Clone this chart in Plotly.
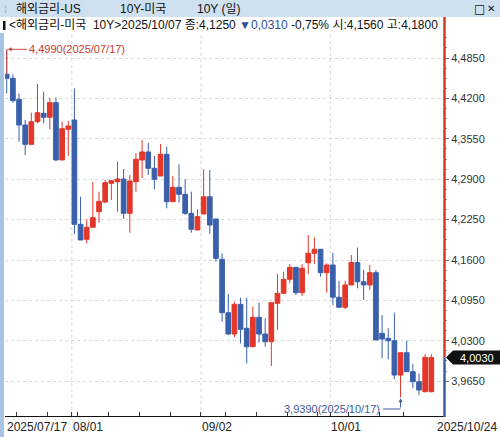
import pandas as pd
import plotly.graph_objects as go

# ---------------- data ----------------
holidays = ["2025-09-01", "2025-10-13"]
dates = [d for d in pd.bdate_range("2025-07-17", "2025-10-24") if d.strftime("%Y-%m-%d") not in holidays]
date_labels = [d.strftime("%Y/%m/%d") for d in dates]

opn = [4.4588, 4.4523, 4.4185, 4.3772, 4.3461, 4.3825, 4.3960, 4.3896, 4.4131, 4.3209,
       4.3703, 4.3852, 4.2174, 4.1933, 4.2126, 4.2377, 4.2533, 4.2834, 4.2860, 4.2903,
       4.2351, 4.2860, 4.3209, 4.3338, 4.3075, 4.2951, 4.3301, 4.2538, 4.2770, 4.2657,
       4.2351, 4.2083, 4.2340, 4.2618, 4.2260, 4.1611, 4.0752, 4.0409, 4.0887, 4.0501,
       4.0205, 4.0678, 4.0409, 4.0285, 4.0903, 4.1064, 4.1289, 4.1482, 4.1074, 4.1556,
       4.1708, 4.1772, 4.1396, 4.1519, 4.1000, 4.0839, 4.1198, 4.1560, 4.1250, 4.1198,
       4.1396, 4.0420, 4.0340, 4.0301, 3.9749, 4.0108, 3.9803, 3.9642, 3.9481, 3.9481]
high = [4.4990, 4.4588, 4.4282, 4.3852, 4.3970, 4.4432, 4.4308, 4.4211, 4.4211, 4.3825,
        4.3836, 4.4362, 4.2618, 4.2255, 4.2860, 4.2699, 4.2887, 4.2887, 4.3181, 4.3064,
        4.2967, 4.3317, 4.3531, 4.3487, 4.3273, 4.3466, 4.3423, 4.2951, 4.3140, 4.2898,
        4.2699, 4.2416, 4.3059, 4.3048, 4.2260, 4.1708, 4.1053, 4.0929, 4.0993, 4.0993,
        4.0848, 4.0913, 4.0662, 4.0913, 4.1375, 4.1412, 4.1535, 4.1482, 4.1535, 4.2002,
        4.1965, 4.1772, 4.1547, 4.1717, 4.1267, 4.1267, 4.1680, 4.1800, 4.1439, 4.1519,
        4.1439, 4.0715, 4.0501, 4.0752, 4.0108, 4.0301, 3.9926, 3.9777, 4.0087, 4.0087]
low = [4.4282, 4.4131, 4.3503, 4.3289, 4.3461, 4.3799, 4.3799, 4.3703, 4.3195, 4.3209,
       4.3273, 4.2018, 4.1922, 4.1868, 4.2126, 4.2200, 4.2512, 4.2565, 4.2377, 4.2260,
       4.2039, 4.2699, 4.2914, 4.2967, 4.2737, 4.2951, 4.2432, 4.2538, 4.2522, 4.2324,
       4.2039, 4.2083, 4.2340, 4.2018, 4.1572, 4.0607, 4.0393, 4.0356, 4.0259, 3.9938,
       4.0205, 4.0269, 4.0205, 3.9894, 4.0474, 4.1064, 4.1225, 4.1037, 4.1021, 4.1375,
       4.1535, 4.1331, 4.1074, 4.0876, 4.0839, 4.0807, 4.1198, 4.1144, 4.0956, 4.1117,
       4.0313, 4.0018, 4.0002, 3.9680, 3.9390, 3.9803, 3.9535, 3.9428, 3.9471, 3.9471]
close = [4.4523, 4.4163, 4.3772, 4.3461, 4.3825, 4.3970, 4.3896, 4.4131, 4.3209, 4.3712,
         4.3756, 4.2174, 4.1922, 4.2126, 4.2280, 4.2544, 4.2844, 4.2876, 4.2903, 4.2351,
         4.2871, 4.3220, 4.3338, 4.3075, 4.2898, 4.3301, 4.2538, 4.2770, 4.2657, 4.2351,
         4.2094, 4.2297, 4.2618, 4.2163, 4.1627, 4.0752, 4.0409, 4.0887, 4.0485, 4.0205,
         4.0678, 4.0409, 4.0285, 4.0913, 4.1064, 4.1289, 4.1482, 4.1074, 4.1466, 4.1708,
         4.1772, 4.1396, 4.1519, 4.1000, 4.0839, 4.1198, 4.1560, 4.1250, 4.1198, 4.1396,
         4.0313, 4.0329, 4.0301, 3.9749, 4.0108, 3.9803, 3.9642, 3.9508, 4.0034, 4.0030]

y_ticks = [4.4850, 4.4200, 4.3550, 4.2900, 4.2250, 4.1600, 4.0950, 4.0300, 3.9650]
y_ticktext = ["4,4850", "4,4200", "4,3550", "4,2900", "4,2250", "4,1600", "4,0950", "4,0300", "3,9650"]
x_label_text = ["2025/07/17", "08/01", "09/02", "10/01", "2025/10/24"]

NB = "\u00a0"
header_title_parts = ["해외금리-US", "10Y-미국", "10Y (일)"]
header_info_a = "<해외금리-미국" + NB * 2 + "10Y>2025/10/07 종:4,1250 "
header_info_b = "▼0,0310"
header_info_c = " -0,75% 시:4,1560 고:4,1800"
last_price = 4.0030
hi_idx, lo_idx = 0, 64

# ---------------- layout helpers ----------------
W, H = 500, 437
ML, MR, MT, MB = 5, 56, 35, 21
PW, PH = W - ML - MR, H - MT - MB
Y0, Y1 = 3.909, 4.522
X0, X1 = -0.28, 71.06


def PX(px):
    return (px - ML) / PW


def PY(py):
    return (H - MB - py) / PH


def val2py(v):
    return MT + (Y1 - v) / (Y1 - Y0) * PH


idx = list(range(len(dates)))
RED = "#e3372a"
BLUE = "#3a60ab"
FONT = "Liberation Sans, Noto Sans CJK KR, sans-serif"

fig = go.Figure()
fig.add_trace(go.Candlestick(
    x=idx, open=opn, high=high, low=low, close=close,
    increasing=dict(fillcolor=RED, line=dict(color=RED, width=1)),
    decreasing=dict(fillcolor=BLUE, line=dict(color=BLUE, width=1)),
    whiskerwidth=0, showlegend=False, hoverinfo="skip",
))

# week-start ticks and month gridlines
week_starts = []
prev = None
for i, d in enumerate(dates):
    wk = d.isocalendar()[1]
    if prev is not None and wk != prev:
        week_starts.append(i)
    prev = wk
month_starts = [i for i in range(1, len(dates)) if dates[i].month != dates[i - 1].month]
label_idx = [0] + month_starts + [len(dates) - 1]
tick_pos = sorted(set(week_starts + month_starts))
tick_pos = [p - 0.45 for p in tick_pos]

shapes = []
for m in month_starts:
    shapes.append(dict(type="line", xref="x", yref="paper", x0=m - 0.42, x1=m - 0.42, y0=0, y1=1,
                       line=dict(color="#d6d6d6", width=1, dash="3px,3px"), layer="below"))

# title bar, left strip
shapes.append(dict(type="rect", xref="paper", yref="paper", x0=PX(0), x1=PX(500), y0=PY(17), y1=PY(0),
                   fillcolor="#cfe1f1", line=dict(width=0), layer="below"))
shapes.append(dict(type="rect", xref="paper", yref="paper", x0=PX(0), x1=PX(4), y0=PY(437), y1=PY(33),
                   fillcolor="#a9c3e2", line=dict(width=0), layer="below"))
# black marker in header row
shapes.append(dict(type="rect", xref="paper", yref="paper", x0=PX(3), x1=PX(5.5), y0=PY(30), y1=PY(21),
                   fillcolor="#111", line=dict(width=0)))

# coloured price axis line
py_last = val2py(last_price)
shapes.append(dict(type="line", xref="paper", yref="paper", x0=PX(444.5), x1=PX(444.5), y0=PY(17), y1=PY(py_last),
                   line=dict(color="#d23a2b", width=2.5)))
shapes.append(dict(type="line", xref="paper", yref="paper", x0=PX(444.5), x1=PX(444.5), y0=PY(py_last), y1=PY(417),
                   line=dict(color="#3a5ea6", width=2.5)))
# price tag
tag = "M {x0},{yc} L {x1},{yt} L {x2},{yt} L {x2},{yb} L {x1},{yb} Z".format(
    x0=PX(446), x1=PX(453), x2=PX(500), yc=PY(py_last), yt=PY(py_last - 7), yb=PY(py_last + 7))
shapes.append(dict(type="path", xref="paper", yref="paper", path=tag, fillcolor="#111", line=dict(width=0)))

# high marker vertical (overlay on wick)
shapes.append(dict(type="line", xref="x", yref="y", x0=hi_idx, x1=hi_idx, y0=high[hi_idx], y1=opn[hi_idx],
                   line=dict(color="#d0463a", width=1)))
# low marker elbow
py_low_lbl = 409
shapes.append(dict(type="line", xref="paper", yref="paper", x0=PX(383), x1=PX(5 + (lo_idx - X0) / (X1 - X0) * PW),
                   y0=PY(py_low_lbl), y1=PY(py_low_lbl), line=dict(color="#3d5a99", width=1)))

annotations = []
# header texts
annotations.append(dict(xref="paper", yref="paper", x=PX(2), y=PY(8.5), text="⁞", showarrow=False,
                        xanchor="left", yanchor="middle", font=dict(family=FONT, size=11, color="#8aa0b8")))
for xp, t in zip([14, 118, 195], header_title_parts):
    annotations.append(dict(xref="paper", yref="paper", x=PX(xp), y=PY(8.5), text=t, showarrow=False,
                            xanchor="left", yanchor="middle", font=dict(family=FONT, size=12, color="#111")))
annotations.append(dict(xref="paper", yref="paper", x=PX(480), y=PY(8.5), text="□", showarrow=False,
                        xanchor="center", yanchor="middle", font=dict(family="DejaVu Sans", size=12, color="#111")))
annotations.append(dict(xref="paper", yref="paper", x=PX(491), y=PY(8.5), text="✕", showarrow=False,
                        xanchor="center", yanchor="middle", font=dict(family="DejaVu Sans", size=10, color="#111")))
annotations.append(dict(xref="paper", yref="paper", x=PX(7), y=PY(25), showarrow=False,
                        text=header_info_a + "<span style='color:#2b4fa0'>" + header_info_b + "</span>" + header_info_c,
                        xanchor="left", yanchor="middle", font=dict(family=FONT, size=12, color="#111")))
# x labels
for k, (i, t) in enumerate(zip(label_idx, x_label_text)):
    if k == 0:
        annotations.append(dict(xref="paper", yref="paper", x=PX(5), y=PY(427), text=t, showarrow=False,
                                xanchor="left", yanchor="middle", font=dict(family=FONT, size=12, color="#222")))
    elif k == len(label_idx) - 1:
        annotations.append(dict(xref="paper", yref="paper", x=PX(499), y=PY(427), text=t, showarrow=False,
                                xanchor="right", yanchor="middle", font=dict(family=FONT, size=12, color="#222")))
    else:
        annotations.append(dict(xref="x", yref="paper", x=i - 0.45, y=PY(427), text=t, showarrow=False,
                                xanchor="left", yanchor="middle", xshift=-1,
                                font=dict(family=FONT, size=12, color="#222")))
# price tag text
annotations.append(dict(xref="paper", yref="paper", x=PX(477), y=PY(py_last), text="4,0030", showarrow=False,
                        xanchor="center", yanchor="middle", font=dict(family=FONT, size=11, color="white")))
# high / low markers
annotations.append(dict(xref="x", yref="y", x=hi_idx, y=high[hi_idx],
                        text="4,4990(2025/07/17)", showarrow=True, ax=20, ay=0, xanchor="left",
                        arrowhead=2, arrowsize=0.8, arrowwidth=1, arrowcolor="#d0463a", standoff=1,
                        font=dict(family=FONT, size=11, color="#c63c2f")))
annotations.append(dict(xref="x", yref="y", x=lo_idx, y=low[lo_idx], text="", showarrow=True, ax=0,
                        ay=py_low_lbl - val2py(low[lo_idx]), arrowhead=2, arrowsize=0.8, arrowwidth=1,
                        arrowcolor="#3d5a99", standoff=1))
annotations.append(dict(xref="paper", yref="paper", x=PX(382), y=PY(py_low_lbl), text="3,9390(2025/10/17)",
                        showarrow=False, xanchor="right", yanchor="middle",
                        font=dict(family=FONT, size=11, color="#3d5a99")))

minor_vals = []
for v in y_ticks:
    for k in (1, 2, 3):
        minor_vals.append(round(v + k * 0.01625, 5))

fig.update_layout(
    width=W, height=H,
    margin=dict(l=ML, r=MR, t=MT, b=MB),
    paper_bgcolor="white", plot_bgcolor="white",
    boxgap=0.2, boxgroupgap=0.05,
    showlegend=False,
    shapes=shapes, annotations=annotations,
    xaxis=dict(range=[X0, X1], showgrid=False, zeroline=False, rangeslider=dict(visible=False),
               showline=True, linecolor="#111", linewidth=1,
               tickvals=tick_pos, ticks="inside", ticklen=4, tickcolor="#333", showticklabels=False),
    yaxis=dict(range=[Y0, Y1], side="right", tickvals=y_ticks, ticktext=y_ticktext,
               showgrid=True, gridcolor="#d9d9d9", griddash="3px,3px", zeroline=False, showline=False,
               ticks="outside", ticklen=4, tickcolor="#777",
               minor=dict(tickvals=minor_vals, ticks="outside", ticklen=2, tickcolor="#999", showgrid=False),
               tickfont=dict(family=FONT, size=11, color="#333")),
)

fig.write_html("out.html", config={"displayModeBar": False},
               post_script="document.body.style.margin='0px';document.body.style.overflow='hidden';")
